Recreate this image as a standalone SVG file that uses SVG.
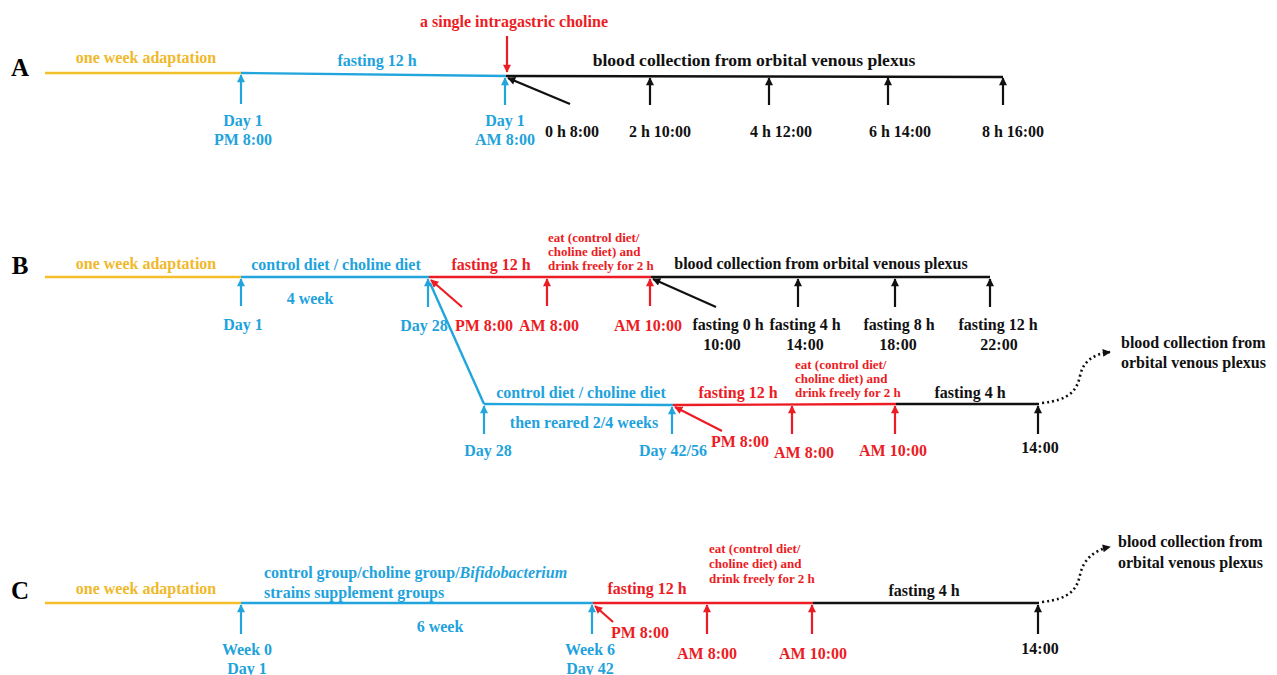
<svg xmlns="http://www.w3.org/2000/svg" width="1277" height="675" viewBox="0 0 1277 675">
<style>
text{font-family:"Liberation Serif","Times New Roman",serif;font-weight:bold;font-size:16px;text-anchor:middle}
.sec{font-size:25px;fill:#000}
.y{fill:#f0b92c}.b{fill:#1fa3dc}.r{fill:#ec1c24}.k{fill:#111}
.sm{font-size:13px;text-anchor:start}
.st{text-anchor:start}
.ly{stroke:#f2be2a;stroke-width:2.4;fill:none}
.lb{stroke:#22a5dd;stroke-width:2.4;fill:none}
.lr{stroke:#ec1c24;stroke-width:2.4;fill:none}
.lk{stroke:#111;stroke-width:2.4;fill:none}
.ab{stroke:#22a5dd;stroke-width:2.2;marker-end:url(#hb)}
.ar{stroke:#ec1c24;stroke-width:2.2;marker-end:url(#hr)}
.ak{stroke:#111;stroke-width:2.2;marker-end:url(#hk)}
.dot{stroke:#111;stroke-width:2.6;fill:none;stroke-dasharray:2 3;marker-end:url(#hk)}
</style>
<defs>
<marker id="hb" viewBox="0 0 10 10" refX="9" refY="5" markerUnits="userSpaceOnUse" markerWidth="9" markerHeight="8" orient="auto"><path d="M0,0L10,5L0,10z" fill="#22a5dd"/></marker>
<marker id="hr" viewBox="0 0 10 10" refX="9" refY="5" markerUnits="userSpaceOnUse" markerWidth="9" markerHeight="8" orient="auto"><path d="M0,0L10,5L0,10z" fill="#ec1c24"/></marker>
<marker id="hk" viewBox="0 0 10 10" refX="9" refY="5" markerUnits="userSpaceOnUse" markerWidth="9" markerHeight="8" orient="auto"><path d="M0,0L10,5L0,10z" fill="#111"/></marker>
</defs>

<!-- ===== Section A ===== -->
<g id="A-label"><text class="sec" x="20" y="76">A</text></g>
<g id="A-adapt"><line class="ly" x1="45" y1="73" x2="241" y2="73"/><text class="y" x="146" y="63">one week adaptation</text></g>
<g id="A-fast"><line class="lb" x1="241" y1="73" x2="506" y2="76"/><text class="b" x="377" y="66">fasting 12 h</text></g>
<g id="A-choline"><text class="r" x="514" y="27">a single intragastric choline</text></g>
<g id="A-blood"><line class="lk" x1="506" y1="76" x2="1003" y2="77"/><text class="k" x="754" y="66" style="font-size:17.6px">blood collection from orbital venous plexus</text></g>
<g id="A-day1pm"><text class="b" x="243" y="126">Day 1</text><text class="b" x="243" y="145">PM 8:00</text></g>
<g id="A-day1am"><text class="b" x="505" y="126">Day 1</text><text class="b" x="505" y="145">AM 8:00</text></g>
<g id="A-t0"><text class="k" x="572" y="137">0 h 8:00</text></g>
<g id="A-t2"><text class="k" x="660" y="137">2 h 10:00</text></g>
<g id="A-t4"><text class="k" x="781" y="137">4 h 12:00</text></g>
<g id="A-t6"><text class="k" x="900" y="137">6 h 14:00</text></g>
<g id="A-t8"><text class="k" x="1013" y="137">8 h 16:00</text></g>

<!-- ===== Section B ===== -->
<g id="B-label"><text class="sec" x="20" y="274">B</text></g>
<g id="B-adapt"><line class="ly" x1="45" y1="277" x2="241" y2="277"/><text class="y" x="146" y="269">one week adaptation</text></g>
<g id="B-diet"><line class="lb" x1="241" y1="277" x2="429" y2="277"/><text class="b" x="336" y="270">control diet / choline diet</text><text class="b" x="310" y="304">4 week</text></g>
<g id="B-fast"><line class="lr" x1="429" y1="277" x2="651" y2="277"/><text class="r" x="491" y="270">fasting 12 h</text></g>
<g id="B-eat"><text class="r sm" x="548" y="242">eat (control diet/</text><text class="r sm" x="548" y="256">choline diet) and</text><text class="r sm" x="548" y="270">drink freely for 2 h</text></g>
<g id="B-blood"><line class="lk" x1="651" y1="277" x2="990" y2="277"/><text class="k" x="821" y="269">blood collection from orbital venous plexus</text></g>
<g id="B-day1"><text class="b" x="243" y="330">Day 1</text></g>
<g id="B-day28"><text class="b" x="424" y="331">Day 28</text></g>
<g id="B-pm8"><text class="r" x="484" y="331">PM 8:00</text></g>
<g id="B-am8"><text class="r" x="549" y="331">AM 8:00</text></g>
<g id="B-am10"><text class="r" x="648" y="331">AM 10:00</text></g>
<g id="B-f0"><text class="k" x="728" y="330">fasting 0 h</text><text class="k" x="722" y="350">10:00</text></g>
<g id="B-f4"><text class="k" x="805" y="330">fasting 4 h</text><text class="k" x="805" y="350">14:00</text></g>
<g id="B-f8"><text class="k" x="899" y="330">fasting 8 h</text><text class="k" x="898" y="350">18:00</text></g>
<g id="B-f12"><text class="k" x="998" y="330">fasting 12 h</text><text class="k" x="999" y="350">22:00</text></g>

<g id="B2-diet"><line class="lb" x1="484" y1="404" x2="673" y2="405"/><text class="b" x="581" y="398">control diet / choline diet</text><text class="b" x="584" y="428">then reared 2/4 weeks</text></g>
<g id="B2-fast"><line class="lr" x1="673" y1="405" x2="896" y2="404"/><text class="r" x="738" y="398">fasting 12 h</text></g>
<g id="B2-eat"><text class="r sm" x="795" y="369">eat (control diet/</text><text class="r sm" x="795" y="383">choline diet) and</text><text class="r sm" x="795" y="397">drink freely for 2 h</text></g>
<g id="B2-fast4"><line class="lk" x1="896" y1="404" x2="1039" y2="404"/><text class="k" x="970" y="398">fasting 4 h</text></g>
<g id="B2-day28"><text class="b" x="488" y="456">Day 28</text></g>
<g id="B2-day42"><text class="b" x="673" y="456">Day 42/56</text></g>
<g id="B2-pm8"><text class="r" x="740" y="447">PM 8:00</text></g>
<g id="B2-am8"><text class="r" x="804" y="458">AM 8:00</text></g>
<g id="B2-am10"><text class="r" x="893" y="456">AM 10:00</text></g>
<g id="B2-1400"><text class="k" x="1040" y="453">14:00</text></g>
<g id="B2-blood"><text class="k st" x="1121" y="348">blood collection from</text><text class="k st" x="1121" y="368">orbital venous plexus</text></g>

<!-- ===== Section C ===== -->
<g id="C-label"><text class="sec" x="20" y="599">C</text></g>
<g id="C-adapt"><line class="ly" x1="45" y1="603" x2="241" y2="603"/><text class="y" x="146" y="594">one week adaptation</text></g>
<g id="C-groups"><line class="lb" x1="241" y1="603" x2="593" y2="603"/><text class="b st" x="264" y="578">control group/choline group/<tspan font-style="italic">Bifidobacterium</tspan></text><text class="b st" x="264" y="598">strains supplement groups</text><text class="b" x="440" y="632">6 week</text></g>
<g id="C-fast"><line class="lr" x1="593" y1="603" x2="813" y2="603"/><text class="r" x="647" y="594">fasting 12 h</text></g>
<g id="C-eat"><text class="r sm" x="709" y="553">eat (control diet/</text><text class="r sm" x="709" y="568">choline diet) and</text><text class="r sm" x="709" y="583">drink freely for 2 h</text></g>
<g id="C-fast4"><line class="lk" x1="813" y1="603" x2="1039" y2="603"/><text class="k" x="924" y="596">fasting 4 h</text></g>
<g id="C-week0"><text class="b" x="247" y="655">Week 0</text><text class="b" x="247" y="674">Day 1</text></g>
<g id="C-week6"><text class="b" x="590" y="655">Week 6</text><text class="b" x="590" y="674">Day 42</text></g>
<g id="C-pm8"><text class="r" x="640" y="638">PM 8:00</text></g>
<g id="C-am8"><text class="r" x="707" y="659">AM 8:00</text></g>
<g id="C-am10"><text class="r" x="813" y="659">AM 10:00</text></g>
<g id="C-1400"><text class="k" x="1040" y="654">14:00</text></g>
<g id="C-blood"><text class="k st" x="1118" y="547">blood collection from</text><text class="k st" x="1118" y="568">orbital venous plexus</text></g>

<!-- ===== Connectors ===== -->
<g id="connectors">
<line class="ar" x1="507" y1="36" x2="507" y2="72"/>
<line class="ab" x1="241" y1="104" x2="241" y2="75"/>
<line class="ab" x1="505" y1="105" x2="505" y2="78"/>
<line class="ak" x1="570" y1="104" x2="508" y2="78"/>
<line class="ak" x1="650" y1="105" x2="650" y2="78"/>
<line class="ak" x1="769" y1="105" x2="769" y2="78"/>
<line class="ak" x1="888" y1="105" x2="888" y2="78"/>
<line class="ak" x1="1003" y1="105" x2="1003" y2="78"/>

<line class="ab" x1="241" y1="306" x2="241" y2="279"/>
<line class="ab" x1="428" y1="307" x2="428" y2="279"/>
<line class="ar" x1="462" y1="307" x2="431" y2="280"/>
<line class="ar" x1="547" y1="306" x2="547" y2="279"/>
<line class="ar" x1="650" y1="306" x2="650" y2="279"/>
<line class="ak" x1="716" y1="307" x2="653" y2="279"/>
<line class="ak" x1="798" y1="307" x2="798" y2="279"/>
<line class="ak" x1="895" y1="307" x2="895" y2="279"/>
<line class="ak" x1="990" y1="307" x2="990" y2="279"/>
<line class="lb" x1="430" y1="283" x2="484" y2="404"/>

<line class="ab" x1="484" y1="434" x2="484" y2="406"/>
<line class="ab" x1="672" y1="434" x2="672" y2="407"/>
<line class="ar" x1="722" y1="431" x2="675" y2="407"/>
<line class="ar" x1="792" y1="434" x2="792" y2="406"/>
<line class="ar" x1="895" y1="434" x2="895" y2="406"/>
<line class="ak" x1="1038" y1="434" x2="1038" y2="406"/>
<path class="dot" d="M1042,403 C1070,400 1077,390 1080,376 C1083,361 1094,354 1110,352"/>

<line class="ab" x1="241" y1="634" x2="241" y2="605"/>
<line class="ab" x1="592" y1="634" x2="592" y2="605"/>
<line class="ar" x1="613" y1="622" x2="595" y2="606"/>
<line class="ar" x1="707" y1="634" x2="707" y2="605"/>
<line class="ar" x1="812" y1="634" x2="812" y2="605"/>
<line class="ak" x1="1038" y1="634" x2="1038" y2="605"/>
<path class="dot" d="M1042,602 C1070,599 1077,589 1080,575 C1083,560 1094,550 1110,547"/>
</g>
</svg>
